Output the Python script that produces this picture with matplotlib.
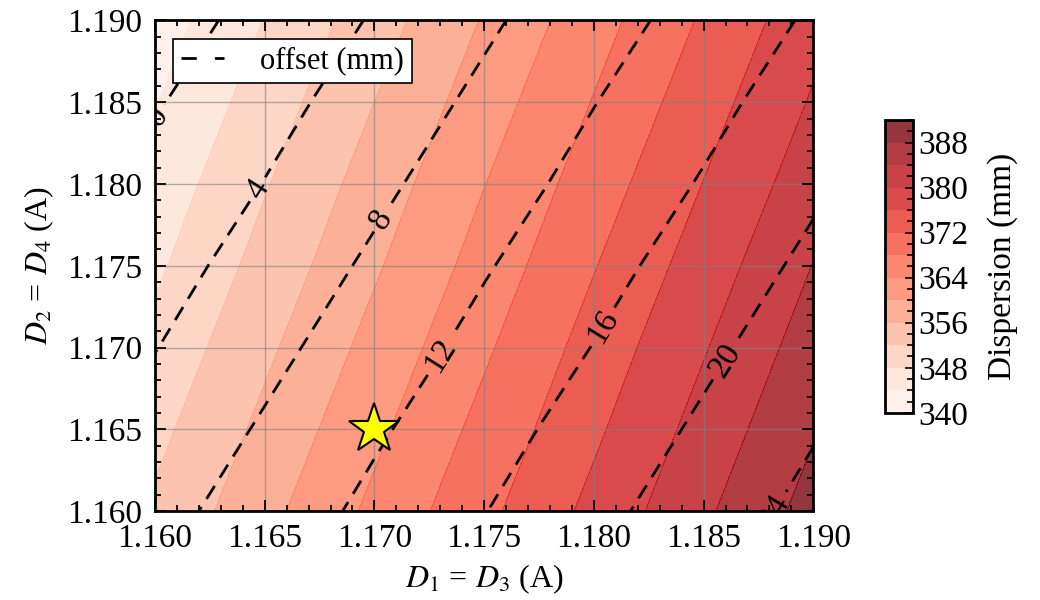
import matplotlib
matplotlib.use('Agg')
import matplotlib.pyplot as plt
import numpy as np
from matplotlib.lines import Line2D
from matplotlib.ticker import MultipleLocator, FormatStrFormatter

plt.rcParams['font.family'] = ['Liberation Serif', 'DejaVu Serif']
plt.rcParams['mathtext.fontset'] = 'stix'

# grid nodes (A)
d13 = [1.160, 1.165, 1.170, 1.175, 1.180, 1.185, 1.190]
d24 = [1.160, 1.165, 1.170, 1.175, 1.180, 1.185, 1.190]

# dispersion (mm), rows = D2 = D4 from 1.160 to 1.190
dispersion = [
    [352.7, 358.8, 364.9, 371.0, 377.1, 383.3, 389.5],
    [350.9, 357.0, 363.1, 369.2, 375.3, 381.5, 387.7],
    [349.1, 355.2, 361.3, 367.4, 373.6, 379.7, 385.9],
    [347.3, 353.4, 359.5, 365.6, 371.8, 377.9, 384.1],
    [345.6, 351.7, 357.8, 363.9, 370.0, 376.1, 382.2],
    [343.8, 349.9, 356.0, 362.1, 368.2, 374.3, 380.4],
    [342.0, 348.1, 354.2, 360.3, 366.4, 372.5, 378.6],
]

# offset (mm), same layout
offset = [
    [6.8, 9.8, 12.9, 15.9, 19.0, 22.0, 25.1],
    [5.4, 8.4, 11.5, 14.5, 17.6, 20.6, 23.7],
    [3.9, 7.0, 10.0, 13.1, 16.1, 19.2, 22.2],
    [2.5, 5.6, 8.6, 11.7, 14.7, 17.8, 20.8],
    [1.1, 4.1, 7.2, 10.2, 13.3, 16.3, 19.4],
    [-0.3, 2.7, 5.8, 8.8, 11.9, 14.9, 18.0],
    [-1.8, 1.3, 4.3, 7.4, 10.4, 13.5, 16.5],
]

disp_levels = list(range(340, 393, 4))
offset_levels = [0, 4, 8, 12, 16, 20, 24]
label_pos = [(1.1601, 1.1841), (1.1643, 1.1800), (1.1700, 1.1781),
             (1.1724, 1.1700), (1.1800, 1.1716), (1.1853, 1.1698),
             (1.1875, 1.1603)]

# operating point
star_x = [1.170]
star_y = [1.165]

dash = (0, (5.5, 3.5))

fig = plt.figure(figsize=(10.4, 6.0), dpi=100)
ax = fig.add_axes([0.149, 0.148, 0.633, 0.818])

X, Y = np.meshgrid(d13, d24)
cf = ax.contourf(X, Y, np.array(dispersion), levels=disp_levels,
                 cmap='Reds', alpha=0.8)

cs = ax.contour(X, Y, np.array(offset), levels=offset_levels, colors='k',
                linewidths=2.0, linestyles=[dash])
ax.clabel(cs, fmt='%d', fontsize=24, manual=label_pos, inline_spacing=6)

ax.plot(star_x, star_y, marker='*', markersize=38, color='yellow',
        markeredgecolor='k', markeredgewidth=1.5, linestyle='none', zorder=5)

ax.set_xlim(1.160, 1.190)
ax.set_ylim(1.160, 1.190)
ax.set_xticks(d13)
ax.set_yticks(d24)
ax.xaxis.set_major_formatter(FormatStrFormatter('%.3f'))
ax.yaxis.set_major_formatter(FormatStrFormatter('%.3f'))
ax.xaxis.set_minor_locator(MultipleLocator(0.001))
ax.yaxis.set_minor_locator(MultipleLocator(0.001))
ax.tick_params(which='both', direction='in', top=True, right=True,
               labelsize=24, width=1.3)
ax.tick_params(which='major', length=8, pad=9)
ax.tick_params(which='minor', length=4)
ax.grid(True, color='gray', alpha=0.6, linewidth=1.0)
for s in ax.spines.values():
    s.set_linewidth(2)

ax.set_xlabel(r'$D_1$ = $D_3$ (A)', fontsize=23, labelpad=6)
ax.set_ylabel(r'$D_2$ = $D_4$ (A)', fontsize=23, labelpad=8)

handle = Line2D([], [], color='k', linewidth=2.0, linestyle=(0, (5.5, 6.5)))
leg = ax.legend([handle], ['offset (mm)'], loc='upper left', fontsize=22,
                fancybox=False, framealpha=1, edgecolor='k',
                handlelength=1.4, handletextpad=1.2, borderpad=0.25,
                borderaxespad=0.6)
leg.get_frame().set_linewidth(1.2)

cax = fig.add_axes([0.851, 0.312, 0.027, 0.488])
cb = fig.colorbar(cf, cax=cax, ticks=list(range(340, 392, 8)))
cb.ax.yaxis.set_minor_locator(MultipleLocator(2))
cb.ax.tick_params(which='both', direction='in', labelsize=24, width=1.2)
cb.ax.tick_params(which='major', length=6)
cb.ax.tick_params(which='minor', length=4)
cb.outline.set_linewidth(2)
cb.set_label('Dispersion (mm)', fontsize=24, labelpad=14)

fig.savefig('out.png', dpi=100)
